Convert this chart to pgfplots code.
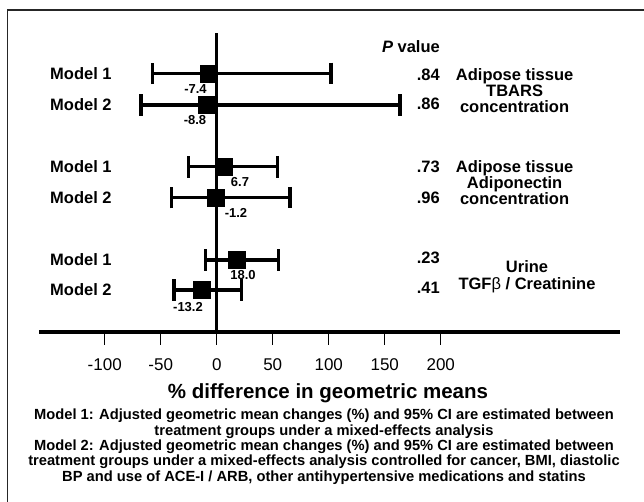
\documentclass[border=0pt]{standalone}
\usepackage{pgfplots}
\pgfplotsset{compat=1.18}
\usepackage{fontspec}
\setmainfont{Liberation Sans}
\newcommand\fs[1]{\fontsize{#1}{#1}\selectfont}

\begin{document}
\begin{tikzpicture}
\useasboundingbox (0pt,0pt) rectangle (644pt,-502pt);
% frame (only top and left edges are inside the picture)
\draw[line width=1.2pt, black!85] (7.3pt,-510pt) -- (7.3pt,-10pt) -- (650pt,-10pt);

\begin{axis}[
  at={(39pt,-331.7pt)}, anchor=south west,
  scale only axis, width=580.6pt, height=299pt,
  xmin=-158.7, xmax=359.7, ymin=0, ymax=10,
  axis x line=bottom, axis y line=center,
  x axis line style={line width=4pt, -},
  y axis line style={line width=3.4pt, -},
  ytick=\empty,
  xtick={-100,-50,0,50,100,150,200},
  xticklabels={-100,-50,0,50,100,150,200},
  tick align=outside, major tick length=13pt,
  tick style={line width=1.3pt, black},
  xticklabel style={font=\fs{17}, anchor=center, yshift=-20pt},
  clip=false,
]
\addplot[only marks, mark=square*, mark size=8.4pt, black,
  error bars/.cd, x dir=both, x explicit,
  error bar style={line width=3.3pt, black},
  error mark options={black, rotate=90, mark size=10.8pt, line width=3.3pt}]
coordinates {
  (-7.4,8.642)  += (109.4,0) -= (49.7,0)
  (-8.8,7.582)  += (172.5,0) -= (58.8,0)
  (6.7,5.518)   += (47.7,0)  -= (32.0,0)
  (-1.2,4.482)  += (66.6,0)  -= (39.0,0)
  (18.0,2.398)  += (37.0,0)  -= (27.8,0)
  (-13.2,1.395) += (35.5,0)  -= (24.9,0)
};
\end{axis}

% estimate labels
\begin{scope}[every node/.style={font=\bfseries\fs{13}, inner sep=0pt}]
\node at (195.5pt,-89pt) {-7.4};
\node at (195pt,-120pt) {-8.8};
\node at (240pt,-182pt) {6.7};
\node at (236pt,-213pt) {-1.2};
\node at (243pt,-275pt) {18.0};
\node at (188pt,-306.7pt) {-13.2};
\end{scope}

% row labels, P values, outcome names
\begin{scope}[every node/.style={font=\bfseries\fs{16.5}, inner sep=0pt}]
\foreach \y/\m in {73.3/1, 105/2, 166.7/1, 197.7/2, 260/1, 290/2}
  \node[anchor=west] at (50pt,-\y pt) {Model \m};
\node[anchor=east] at (440pt,-46.7pt) {\textit{P} value};
\foreach \y/\p in {75/.84, 104/.86, 167/.73, 198/.96, 258/.23, 288/.41}
  \node[anchor=east] at (440pt,-\y pt) {\p};
\node[align=center, font=\bfseries\fontsize{16.5}{15.8}\selectfont] at (514.6pt,-90.5pt)
  {Adipose tissue\\TBARS\\concentration};
\node[align=center, font=\bfseries\fontsize{16.5}{16}\selectfont] at (514.6pt,-183pt)
  {Adipose tissue\\Adiponectin\\concentration};
\node[align=center, font=\bfseries\fontsize{16.5}{17}\selectfont] at (527pt,-276.5pt)
  {Urine\\TGF{\mdseries β} / Creatinine};
\end{scope}

\node[font=\bfseries\fs{20.5}] at (328pt,-393pt) {\% difference in geometric means};
\node[align=center, font=\bfseries\fontsize{14.7}{15.3}\selectfont, inner sep=0pt] at (324pt,-446.7pt)
  {Model 1: Adjusted geometric mean changes (\%) and 95\% CI are estimated between\\
   treatment groups under a mixed-effects analysis\\
   Model 2: Adjusted geometric mean changes (\%) and 95\% CI are estimated between\\
   treatment groups under a mixed-effects analysis controlled for cancer, BMI, diastolic\\
   BP and use of ACE-I / ARB, other antihypertensive medications and statins};
\end{tikzpicture}
\end{document}
